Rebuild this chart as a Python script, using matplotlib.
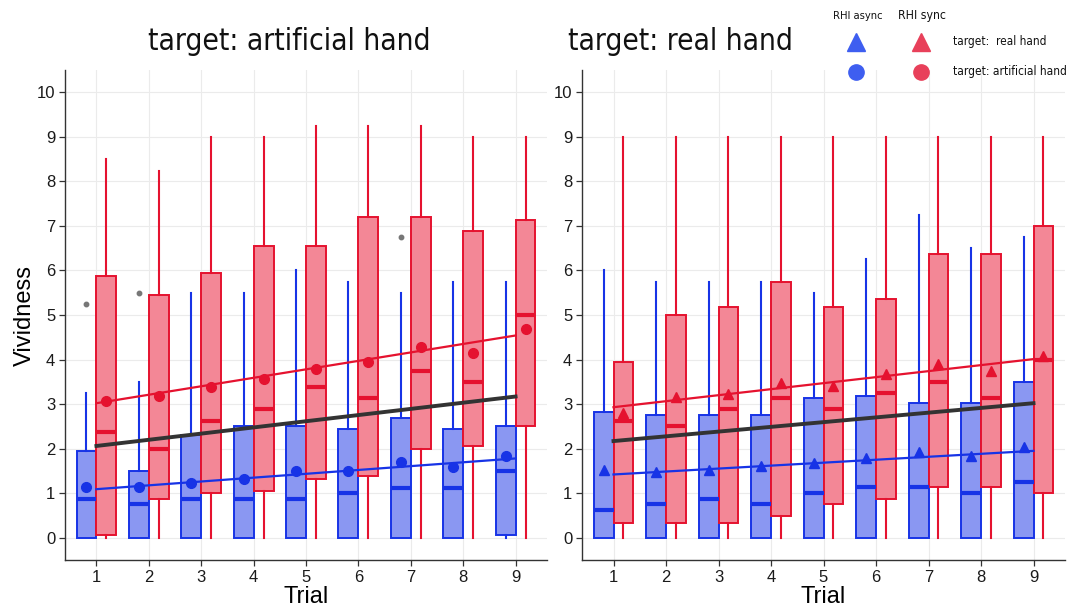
import matplotlib
matplotlib.use("Agg")
import matplotlib.pyplot as plt
from matplotlib import font_manager
from matplotlib.font_manager import FontProperties
from matplotlib.lines import Line2D
import numpy as np
import os

# ---------------- data ----------------
trials = [1, 2, 3, 4, 5, 6, 7, 8, 9]
tick_labels = ["1", "2", "3", "4", "5", "6", "7", "8", "9"]
y_ticks = [0, 1, 2, 3, 4, 5, 6, 7, 8, 9, 10]

# target: artificial hand, RHI async
art_async_whislo = [0, 0, 0, 0, 0, 0, 0, 0, 0]
art_async_q1 = [0, 0, 0, 0, 0, 0, 0, 0, 0.06]
art_async_med = [0.875, 0.75, 0.875, 0.875, 0.875, 1.0, 1.125, 1.125, 1.5]
art_async_q3 = [1.95, 1.5, 2.31, 2.5, 2.5, 2.44, 2.69, 2.44, 2.5]
art_async_whishi = [3.25, 3.5, 5.5, 5.5, 6.0, 5.75, 5.5, 5.75, 5.75]
art_async_mean = [1.15, 1.15, 1.23, 1.32, 1.5, 1.5, 1.71, 1.58, 1.83]
art_async_outliers = {1: [5.25], 2: [5.5], 7: [6.75]}

# target: artificial hand, RHI sync
art_sync_whislo = [0, 0, 0, 0, 0, 0, 0, 0, 0]
art_sync_q1 = [0.06, 0.86, 1.0, 1.06, 1.32, 1.38, 2.0, 2.07, 2.5]
art_sync_med = [2.38, 2.0, 2.63, 2.88, 3.38, 3.13, 3.75, 3.5, 5.0]
art_sync_q3 = [5.88, 5.44, 5.95, 6.56, 6.56, 7.19, 7.19, 6.88, 7.13]
art_sync_whishi = [8.5, 8.24, 9.0, 9.0, 9.24, 9.24, 9.24, 9.0, 9.0]
art_sync_mean = [3.08, 3.19, 3.38, 3.56, 3.78, 3.94, 4.29, 4.15, 4.68]

# fitted lines (value at trial 1, value at trial 9)
art_fit_async = [1.09, 1.78]
art_fit_sync = [3.02, 4.54]
art_fit_all = [2.06, 3.17]

# target: real hand, RHI async
real_async_whislo = [0, 0, 0, 0, 0, 0, 0, 0, 0]
real_async_q1 = [0, 0, 0, 0, 0, 0, 0, 0, 0]
real_async_med = [0.62, 0.75, 0.875, 0.75, 1.0, 1.13, 1.13, 1.0, 1.26]
real_async_q3 = [2.83, 2.75, 2.75, 2.75, 3.13, 3.19, 3.02, 3.02, 3.5]
real_async_whishi = [6.0, 5.75, 5.75, 5.75, 5.5, 6.25, 7.25, 6.5, 6.74]
real_async_mean = [1.52, 1.48, 1.53, 1.6, 1.67, 1.78, 1.93, 1.83, 2.03]

# target: real hand, RHI sync
real_sync_whislo = [0, 0, 0, 0, 0, 0, 0, 0, 0]
real_sync_q1 = [0.32, 0.32, 0.32, 0.49, 0.75, 0.875, 1.13, 1.13, 1.0]
real_sync_med = [2.63, 2.5, 2.88, 3.13, 2.88, 3.26, 3.5, 3.13, 4.0]
real_sync_q3 = [3.94, 5.0, 5.19, 5.75, 5.19, 5.37, 6.38, 6.38, 7.0]
real_sync_whishi = [9, 9, 9, 9, 9, 9, 9, 9, 9]
real_sync_mean = [2.81, 3.17, 3.22, 3.48, 3.41, 3.68, 3.91, 3.75, 4.08]

real_fit_async = [1.42, 1.95]
real_fit_sync = [2.93, 4.01]
real_fit_all = [2.17, 3.02]

titles = ["target: artificial hand", "target: real hand"]
legend_headers = ["RHI async", "RHI sync"]
legend_rows = ["target:  real hand", "target: artificial hand"]

# ---------------- styling ----------------
BLUE = "#1733e6"
BLUE_FILL = "#8a97f2"
RED = "#e5122f"
RED_FILL = "#f38796"
LEG_BLUE = "#3e5ef0"
LEG_RED = "#e8405a"
DARK = "#333333"


def find_condensed():
    prefs = ["notosans-extracondensed.ttf", "notosans-extracondensed-regular",
             "notosans-condensed.ttf", "notosans-condensed-regular",
             "liberationsansnarrow-regular", "dejavusanscondensed.ttf",
             "opensans-condensed", "opensanscondensed", "robotocondensed-regular",
             "roboto-condensed", "arialnarrow"]
    files = [f.fname for f in font_manager.fontManager.ttflist]
    low = {os.path.basename(p).lower(): p for p in files}
    for pref in prefs:
        for k, p in low.items():
            if k.startswith(pref) or k == pref:
                if any(s in k for s in ["bold", "italic", "oblique", "light",
                                        "thin", "black", "medium"]):
                    continue
                return FontProperties(fname=p)
    for f in font_manager.fontManager.ttflist:
        k = os.path.basename(f.fname).lower()
        if ("condensed" in k or "narrow" in k) and not any(
                s in k for s in ["bold", "italic", "oblique", "light", "black",
                                 "thin", "medium"]):
            return FontProperties(fname=f.fname)
    return FontProperties(family="DejaVu Sans")


COND = find_condensed()
SANS = ["Liberation Sans", "DejaVu Sans"]
plt.rcParams["font.family"] = SANS

W, H = 1083, 606
fig = plt.figure(figsize=(W / 100, H / 100), dpi=100)
fig.patch.set_facecolor("white")


def px_axes(x0, x1, y0, y1):
    return fig.add_axes([x0 / W, 1 - y1 / H, (x1 - x0) / W, (y1 - y0) / H])


def stats(wlo, q1, med, q3, whi, mean, fl=None):
    out = []
    for i in range(len(trials)):
        out.append(dict(whislo=wlo[i], q1=q1[i], med=med[i], q3=q3[i],
                        whishi=whi[i], mean=mean[i],
                        fliers=(fl or {}).get(trials[i], [])))
    return out


def draw_group(ax, st, pos, edge, fill):
    ax.bxp(st, positions=pos, widths=0.38, patch_artist=True,
           showcaps=False, showmeans=False, showfliers=True,
           boxprops=dict(facecolor=fill, edgecolor=edge, linewidth=1.4),
           whiskerprops=dict(color=edge, linewidth=1.5),
           medianprops=dict(color=edge, linewidth=3.0, solid_capstyle="butt"),
           flierprops=dict(marker="o", markerfacecolor="#777777",
                           markeredgecolor="#777777", markersize=3.2),
           zorder=2)


def panel(ax, a_st, s_st, a_mean, s_mean, fit_a, fit_s, fit_all, marker, msize):
    x = np.array(trials, dtype=float)
    pa = x - 0.19
    ps = x + 0.19
    draw_group(ax, a_st, pa, BLUE, BLUE_FILL)
    draw_group(ax, s_st, ps, RED, RED_FILL)
    ax.plot(pa, a_mean, linestyle="none", marker=marker, color=BLUE,
            markersize=msize, zorder=5)
    ax.plot(ps, s_mean, linestyle="none", marker=marker, color=RED,
            markersize=msize, zorder=5)
    ends = [trials[0], trials[-1]]
    ax.plot(ends, fit_a, color=BLUE, linewidth=1.6, zorder=4)
    ax.plot(ends, fit_s, color=RED, linewidth=1.6, zorder=4)
    ax.plot(ends, fit_all, color=DARK, linewidth=2.8, zorder=4)

    ax.set_xlim(0.4, 9.6)
    ax.set_ylim(-0.5, 10.5)
    ax.set_xticks(trials)
    ax.set_xticklabels(tick_labels)
    ax.set_yticks(y_ticks)
    ax.set_yticklabels([str(v) for v in y_ticks])
    ax.grid(True, color="#ebebeb", linewidth=0.8, zorder=0)
    ax.set_axisbelow(True)
    for s in ["top", "right"]:
        ax.spines[s].set_visible(False)
    for s in ["left", "bottom"]:
        ax.spines[s].set_color(DARK)
        ax.spines[s].set_linewidth(1.0)
    ax.tick_params(axis="both", length=4, width=0.9, color=DARK,
                   labelsize=12, labelcolor="#1a1a1a", pad=3)
    ax.set_xlabel("Trial", fontsize=17, labelpad=1)
    ax.set_facecolor("white")


ax1 = px_axes(65, 547, 70, 560)
panel(ax1,
      stats(art_async_whislo, art_async_q1, art_async_med, art_async_q3,
            art_async_whishi, art_async_mean, art_async_outliers),
      stats(art_sync_whislo, art_sync_q1, art_sync_med, art_sync_q3,
            art_sync_whishi, art_sync_mean),
      art_async_mean, art_sync_mean, art_fit_async, art_fit_sync, art_fit_all,
      "o", 7)
ax1.set_ylabel("Vividness", fontsize=17, labelpad=0.5)

ax2 = px_axes(582, 1065, 70, 560)
panel(ax2,
      stats(real_async_whislo, real_async_q1, real_async_med, real_async_q3,
            real_async_whishi, real_async_mean),
      stats(real_sync_whislo, real_sync_q1, real_sync_med, real_sync_q3,
            real_sync_whishi, real_sync_mean),
      real_async_mean, real_sync_mean, real_fit_async, real_fit_sync,
      real_fit_all, "^", 7.5)


def cond_text(xpx, ypx, s, size, target_w, ha="left", va="center", maxsize=None):
    fp = COND.copy()
    fp.set_size(size)
    t = fig.text(xpx / W, 1 - ypx / H, s, fontproperties=fp, ha=ha, va=va,
                 color="#111111")
    r = fig.canvas.get_renderer()
    w = t.get_window_extent(renderer=r).width
    new = size * target_w / w
    if maxsize is not None:
        new = min(new, maxsize)
    t.set_fontsize(new)
    return t


# titles (fit to the reference widths)
cond_text(148, 50, titles[0], 28, 284, va="baseline", maxsize=36)
cond_text(568, 50, titles[1], 28, 225, va="baseline", maxsize=36)

# legend (manual, figure coords)
cond_text(858, 16, legend_headers[0], 10, 50, ha="center", maxsize=12)
cond_text(922, 16, legend_headers[1], 10, 48, ha="center", maxsize=12)
for (xx, yy, mk, col, ms) in [(856, 42, "^", LEG_BLUE, 13), (921, 42, "^", LEG_RED, 13),
                              (856, 72, "o", LEG_BLUE, 11), (921, 72, "o", LEG_RED, 11)]:
    fig.add_artist(Line2D([xx / W], [1 - yy / H], marker=mk, color=col,
                          markersize=ms, linestyle="none",
                          transform=fig.transFigure))
cond_text(953, 41, legend_rows[0], 10.5, 94, maxsize=13)
cond_text(953, 72, legend_rows[1], 10.5, 115, maxsize=13)

fig.savefig("out.png", dpi=100, facecolor="white")
